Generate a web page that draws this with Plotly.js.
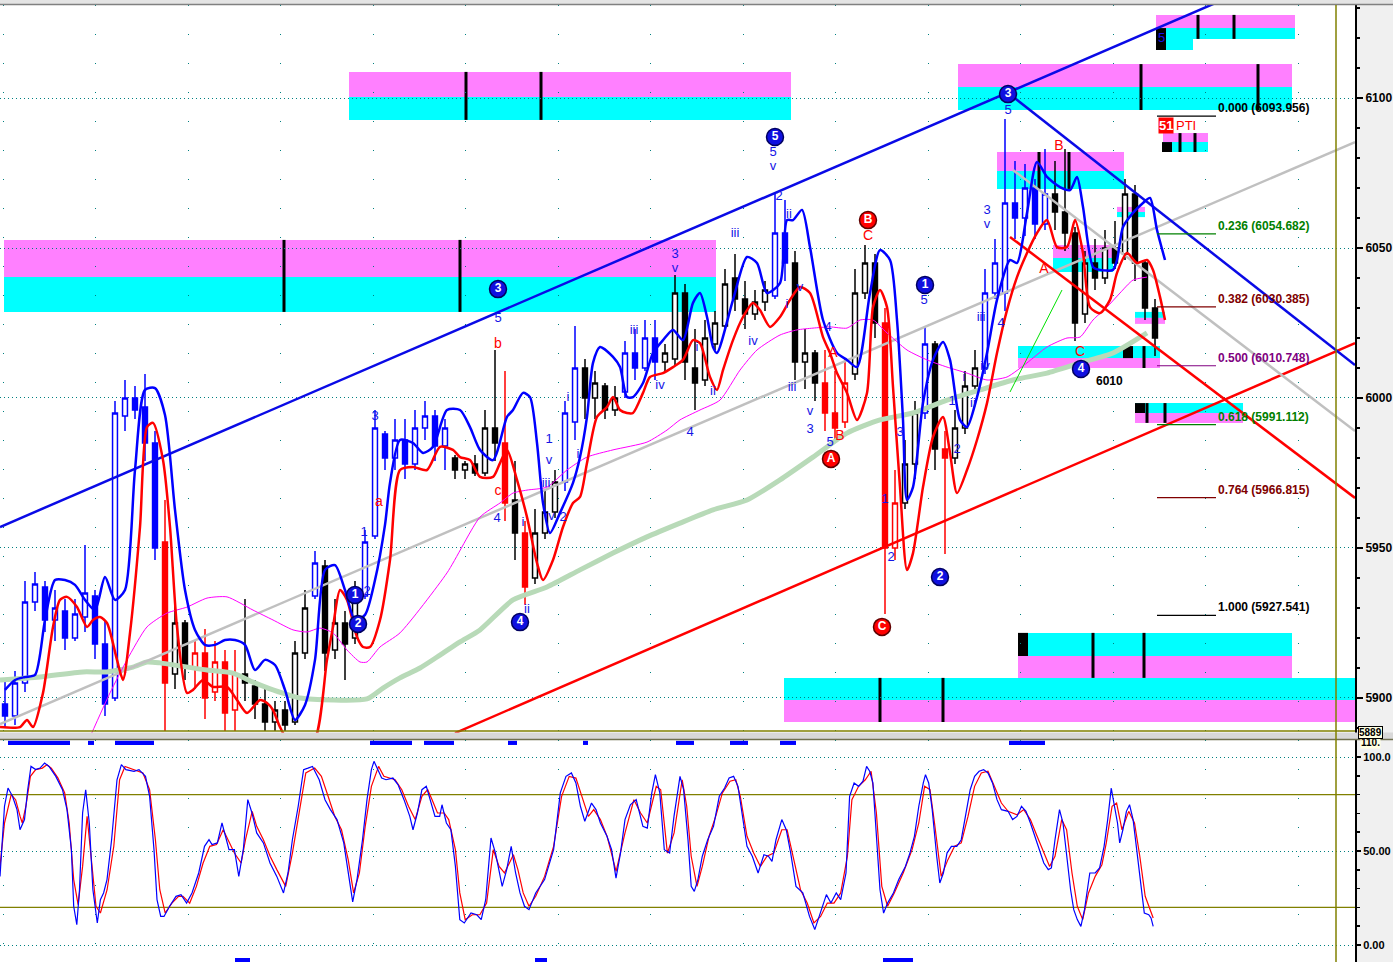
<!DOCTYPE html>
<html><head><meta charset="utf-8">
<script src="https://cdn.plot.ly/plotly-3.0.1.min.js"></script>
<style>html,body{margin:0;padding:0;background:#f0f0f0;}#chart{width:1393px;height:962px;}</style>
</head><body><div id="chart"></div>
<script>
// ---------------- DATA ----------------
// price bars (one every 10 time units, starting at time 5)
const barOpen = [5898,5894,5905,5932,5937,5926,5929,5920,5927,5934, 5918,5900,5994,6000,5997,5985,5952,5908,5925,5910, 5915,5902,5912,5896,5908,5904,5898,5892,5896,5892, 5915,5934,5944,5916,5925,5920,5934,5954,5988,5980, 5986,5978,5990,5994,5984,5980,5976,5978,5975,5990, 5985,5966,5955,5940,5955,5962,5972,5992,6010,6000, 6004,5996,6002,6015,6010,6020,6012,6013,6035,6010, 6006,6018,6024,6040,6033,6028,6032,6034,6055,6045, 6012,6015,6005,5995,5992,6008,6035,6045,6025,5950, 5965,5978,5995,6018,5983,5980,5990,6004,6010,6035, 6035,6065,6060,6070,6058,6068,6062,6055,6028,6045, 6040,6050,6048,6068,6045,6030];
const barHigh = [5906,5909,5939,5942,5939,5936,5933,5933,5951,5936, 5926,5999,6006,6004,6008,5989,5966,5933,5926,5919, 5923,5919,5916,5916,5933,5906,5903,5899,5899,5919, 5936,5949,5946,5933,5929,5939,5956,5996,5989,5993, 5993,5996,5999,5996,5993,5981,5979,5981,5996,6016, 6009,5979,5959,5963,5969,5976,5999,6024,6013,6009, 6005,6004,6019,6023,6026,6026,6018,6041,6038,6023, 6026,6029,6043,6048,6039,6036,6039,6068,6066,6049, 6023,6016,6016,6009,6013,6043,6051,6048,6030,5976, 5986,5999,6024,6019,5989,5996,6009,6016,6043,6053, 6093,6079,6078,6073,6083,6079,6083,6057,6049,6053, 6056,6059,6073,6071,6046,6033];
const barLow = [5890,5891,5902,5929,5922,5919,5916,5919,5922,5913, 5894,5899,5989,5993,5979,5946,5889,5903,5906,5903, 5893,5899,5889,5889,5899,5893,5889,5889,5889,5891, 5913,5933,5909,5913,5906,5918,5933,5953,5976,5976, 5973,5976,5986,5979,5976,5973,5973,5974,5974,5979, 5959,5946,5931,5938,5953,5960,5969,5986,5993,5993, 5993,5994,6000,6006,6009,6006,6009,6011,6006,5996, 6004,6016,6023,6029,6023,6026,6029,6033,6039,6006, 6003,5999,5989,5986,5990,6006,6033,6020,5928,5946, 5963,5973,5993,5976,5948,5978,5988,6003,6008,6033, 6029,6053,6054,6053,6056,6056,6049,6019,6025,6036, 6038,6043,6046,6039,6026,6014];
const barClose = [5894,5905,5932,5938,5926,5930,5920,5928,5935,5918, 5898,5995,6000,5996,5985,5950,5905,5925,5910,5915, 5900,5912,5895,5908,5905,5898,5892,5896,5891,5915, 5930,5945,5915,5925,5918,5935,5952,5990,5980,5986, 5978,5990,5994,5984,5990,5976,5978,5975,5990,5985, 5965,5955,5937,5955,5962,5972,5995,6010,6000,6005, 5996,6000,6015,6010,6020,6012,6015,6035,6012,6005, 6020,6025,6038,6033,6028,6032,6036,6055,6045,6012, 6015,6005,5995,5990,6005,6035,6045,6025,5950,5965, 5978,5995,6018,5983,5980,5990,6004,6010,6035,6045, 6065,6060,6070,6058,6068,6062,6055,6025,6045,6040, 6050,6045,6068,6045,6030,6020];
const barColor = "BBBBBBBBBBBBBBBBRKKRRRRRKKKKKKKBKKKKBBBBBBBBBKKKKKRKRKKKBBKKKKBBBBKKKKKKKKKKKBBKKKRRRKKKRRKKBKRKKKBBBBBBBKKKKKKKKKKK".split('');

// overlay curves (time, price)
const blueBandT = [5,15,25,35,45,55,65,75,85,95,105,115,125,135,145,155,165,175,185,195,205,215,225,235,245,255,265,275,285,295,305,315,325,335,345,355,365,375,385,390,400,413,423,433,447,460,470,480,493,507,513,523,530,537,543,550,560,573,580,587,593,600,613,620,627,633,643,653,663,673,683,693,700,707,713,717,733,747,757,767,780,787,793,802,810,823,837,847,857,870,880,890,897,903,907,913,923,933,943,950,960,967,977,987,997,1010,1017,1027,1037,1047,1060,1070,1077,1083,1093,1100,1113,1117,1123,1133,1143,1150,1157,1165];
const blueBandP = [5902.7,5906,5907,5907.7,5926,5939.3,5939.3,5937.7,5932.7,5929.3,5940.3,5932.7,5936,5976,6002.7,6003.3,5994.3,5962.7,5936,5922.7,5917.7,5917.7,5919.3,5919.3,5917.7,5909.3,5912.7,5911,5902.7,5892.7,5897.7,5912.7,5942.7,5944.3,5936,5926,5927.7,5939.3,5957.7,5971.7,5986,5985,5981.7,5983.7,5996,5996,5990.3,5982.7,5979.3,5993.7,5996,6001.7,6000.3,5985,5965,5955,5961.7,5971.7,5980.3,5993.7,6011.7,6017,6013.7,6010.3,6000.3,6000.3,6005,6015,6019.3,6022.7,6019.3,6031.7,6035,6027,6017,6015,6032.7,6047,6045,6035,6038.3,6059.3,6059.3,6062.7,6050.3,6026,6015,6012.7,6010.3,6035,6049.3,6046,6026,5992.7,5966,5970.3,5998.3,6012.7,6018.7,6012.7,5992.7,5990.3,6000.3,6015,6032.7,6046,6045,6061.7,6078.7,6073.7,6070.3,6069.3,6073.7,6063.7,6043.7,6042.7,6042.7,6046,6057,6061.7,6065,6066.7,6056,6046];
const redBandT = [0,20,27,33,43,53,60,67,77,87,93,100,107,117,123,130,140,147,153,163,170,177,187,193,203,213,227,237,247,260,267,273,280,290,313,327,333,340,347,357,363,370,380,390,400,413,427,440,453,460,470,480,493,500,507,517,527,537,543,553,563,573,580,587,597,607,613,620,627,633,643,650,663,673,683,693,700,710,717,723,733,743,753,760,770,780,790,800,810,823,830,837,847,857,867,873,880,887,893,900,907,913,923,933,943,950,957,967,977,987,997,1007,1017,1027,1037,1047,1057,1067,1075,1083,1090,1100,1110,1117,1127,1137,1147,1153,1160,1165];
const redBandP = [5890.3,5890.3,5892.7,5890.3,5901.7,5923.7,5932.7,5933.7,5930.3,5923.7,5926,5927,5925,5912.7,5906,5921.7,5957,5990.3,5991.7,5979.3,5957,5923.7,5901.7,5902.7,5906,5903.7,5903.7,5899.3,5895,5899.3,5898.3,5896,5890.3,5885,5885,5912.7,5923.7,5936,5932.7,5920.3,5917,5917,5926,5946,5976,5977,5976,5983.7,5982.7,5980.3,5979.3,5973.7,5973.7,5978.3,5982.7,5972.7,5960.3,5945,5939.3,5946,5957,5965,5967,5978.3,5993.7,5997,6000.3,5996,5995,5995,6001.7,6007,6008.3,6010.3,6012.7,6019.3,6018.3,6007,6002.7,6009.3,6019.3,6027,6031.7,6029.3,6023.7,6027,6032.7,6037,6035,6020.3,6015,6008.3,6001.7,5992.7,6001.7,6030.3,6036,6030.3,6003.7,5970.3,5942.7,5948.3,5970.3,5987,5993.7,5981.7,5968.3,5976,5986,5998.3,6015,6029.3,6040.3,6048.3,6055,6059.3,6050.3,6050.3,6059.3,6048.3,6030.3,6028.3,6032.7,6041.7,6048.3,6045,6046,6042.7,6033.7,6026];
const magentaT = [90,110,127,147,167,187,207,227,253,273,293,307,320,333,347,360,367,380,400,447,480,500,513,527,547,567,587,613,647,667,680,700,720,740,757,780,797,813,830,847,860,873,887,907,927,947,967,987,1007,1027,1047,1067,1080,1093,1107,1120,1133,1147];
const magentaP = [5887,5901.7,5912.7,5923.7,5928.3,5930.3,5933.3,5933.7,5929.3,5926,5922.7,5922,5923.3,5921.7,5916,5912,5912,5917,5921.7,5941.7,5960.3,5965,5968.3,5969.3,5970.3,5976,5980.3,5982.7,5985.3,5989.3,5992.7,5996,5999.3,6009.3,6016,6021,6022.7,6023.3,6023.7,6023.3,6026,6026,6021.7,6016,6012.7,6010.3,6008.3,6006,6007,6011.7,6017,6020,6020.3,6026,6030.3,6035,6039.3,6040.3];
const maT = [0,40,83,107,133,147,160,207,233,253,273,300,367,383,400,420,440,460,480,513,547,580,613,647,680,713,747,780,813,847,880,913,947,980,1013,1047,1080,1113,1147];
const maP = [5906,5907,5908.7,5908.7,5910.3,5912,5911.7,5909.3,5908.3,5905.3,5902.7,5900,5899.7,5903.3,5906.7,5910,5914.3,5918.7,5922.7,5932.7,5937,5942.7,5948.3,5953.7,5958.3,5962.7,5966,5972.7,5980.3,5988.3,5992.7,5995,5999.3,6002.7,6006,6008.3,6011.7,6015,6021.7];
const thinGreenT = [1010,1062];
const thinGreenP = [6002,6036];

// trend lines
const trendT0 = [0,455,0,1008,1013,1010];
const trendP0 = [5957,5888.3,5891.3,6101.7,6076,6053.7];
const trendT1 = [1355,1355,1355,1355,1355,1355];
const trendP1 = [6151.7,6018.3,6085.3,6011,5989,5966.7];
const trendKind = ['blue','red','grey','blue','grey','red'];

// fibonacci retracement
const fibRatio = ['0.000','0.236','0.382','0.500','0.618','0.764','1.000'];
const fibPrice = [6093.956,6054.682,6030.385,6010.748,5991.112,5966.815,5927.541];
const fibT0 = 1157, fibT1 = 1216;

// supply / demand zones
const zoneT0 = [349,4,958,1156,997,1163,1053,1117,1018,1135,1135,1018,784];
const zoneT1 = [791,716,1292,1295,1124,1208,1113,1145,1160,1165,1243,1292,1355];
const zoneTop = [6108.7,6052.7,6111.3,6127.7,6082,6088.3,6051,6063.7,6017.3,6028.7,5998.3,5921.7,5906.7];
const zoneMid = [6100.3,6040.3,6103.7,6123.3,6075.7,6085.3,6046.7,6062,6013.3,6026.7,5995,5914,5899.3];
const zoneBot = [6092.7,6028.7,6096,6119.7,6069.7,6082,6042,6060.3,6010,6024.7,5991.7,5906.7,5892];
const zoneKind = ['S','S','S','S','S','S','S','S','D','D','D','D','D'];
const zoneTickT = [466,541,284,460,1141,1258,1198,1234,1039,1069,1180,1195,1144,1147,1165,1093,1144,880,943];
const zoneTickZ = [0,0,1,1,2,2,3,3,4,4,5,5,8,10,10,11,11,12,12];
const blockT0 = [1156,1162,1123,1135,1018];
const blockT1 = [1166,1172,1133,1145,1028];
const blockTop = [6123.3,6085.3,6017.3,5998.3,5921.7];
const blockBot = [6116,6082,6013.3,5995,5914];
const stripT = [1166,1193], stripP = [6119.7,6116];

// wave labels
const blueLblT = [498,375,364,367,523,527,497,549,549,546,550,563,578,568,634,660,675,675,690,697,713,735,753,792,773,773,779,789,787,800,810,810,830,828,924,900,885,891,957,952,964,973,981,985,1001,987,987,1008];
const blueLblP = [6026.3,5993.7,5955,5935.3,5958.3,5929.3,5959.7,5986,5979,5971.5,5960.3,5960,5981,6000,6022.3,6004,6047.7,6043,5988.3,6016.7,6002,6054.7,6018.7,6003.3,6081.7,6077,6067,6061,6031,6036.7,5995.5,5989.3,5985,6023.3,6032.3,5988.3,5966,5946.7,5982.7,5998.7,6006.7,5998,6026.7,6010.3,6024.7,6062.3,6057.7,6095.7];
const blueLblText = ['5','3','1','2','i','ii','4','1','v','iii','iv','2','i','i','iii','iv','3','v','4','i','ii','iii','iv','iii','5','v','2','ii','i','v','v','3','5','4','5','3','1','2','2','1','i','ii','iii','iv','4','3','v','5'];
const redLblT = [498,379,498,123,868,840,833,1059,1044,1080];
const redLblP = [6017.7,5965,5968.7,5907.3,6054,5987.3,6015,6084,6042.7,6015.3];
const redLblText = ['b','a','c','v','C','B','A','B','A','C'];
const blueCircT = [498,775,1008,925,940,520,1081,355,358];
const blueCircP = [6036.3,6087,6101.3,6037.7,5940.3,5925.3,6009.7,5934.3,5924.7];
const blueCircText = ['3','5','3','1','2','4','4','1','2'];
const redCircT = [868,831,882];
const redCircP = [6059.3,5979.7,5923.7];
const redCircText = ['B','A','C'];

// stochastic oscillator
const stochKT = [0,4.5,8,12.5,17,20,24.5,27.7,31,35.7,40,44.6,49,55.8,62.5,67,71.4,73.7,76.8,79.5,82.6,85.7,89.3,92.9,97.3,100.4,103.6,107,111.6,117,121.4,125.9,134,139,145.5,149.6,154,157,160.7,164,169.6,176,181,186.6,192,198.7,204.5,209,212,217.4,222,225.4,229,234.4,238.8,243.3,247.8,252,256.7,263.4,270,276.8,283.5,288,292.4,298.2,303.6,308,312.5,319.2,325,330.4,337,343.75,348,352.7,357,362.5,367,371.4,374,377,381.7,386,392.9,398,404,409.8,413,417.4,421.9,426.3,430.8,435,439.7,442,446.4,450.9,455.4,459.8,464.3,471,476.8,481.25,485.7,491,495.5,502.2,506.7,511.2,515.6,520,524.5,529,535.7,544.6,553.6,560.3,566,571.4,575.9,580.4,584.8,591.5,596,600.4,607,611.6,616,620.5,625,630.4,636.2,642.9,647.3,651.8,655.4,659.8,664.3,669.6,674,
680,683.6,688,691.2,694.3,697.9,702.3,707.7,713.5,719.3,724.6,729.1,733.6,738,742.5,747,752.3,758.1,763.9,768.4,772,776,781.8,786.25,790.7,796,802.8,809.5,814.8,820.6,826.4,830.9,836.25,840.7,846,849.6,854.1,858.6,863,866.6,869.7,872.9,876.4,880,883.6,887.6,893.4,898.75,905.4,909.9,914.4,918.8,923.3,925.5,928.7,932.2,936.7,939.8,943.4,947,951.4,956.8,961.25,965.7,970.2,974.6,979.1,983.6,988,992.5,997,1001.4,1008.1,1012.6,1017,1021.5,1026,1030.4,1034.9,1039.4,1043.8,1048.3,1051.4,1055,1059.5,1063,1066.2,1070.6,1073.75,1077.3,1080.9,1084.5,1089.8,1095.2,1099.6,1104.1,1107.7,1111.25,1113.9,1117.5,1119.7,1122.9,1126.4,1129.55,1133.1,1136.25,1139.8,1144.3,1148.75,1151,1153.2];
const stochK = [36.5,73.8,83.5,79.1,72,61.3,66.7,82.6,95,93.3,94.1,96.8,95,89.7,82.6,72,50.7,20.6,10.8,29.4,70.2,82.6,64.9,29.4,11.7,24.1,27.7,34.8,56,87.9,95.9,93.3,92.4,93.3,89.7,79.1,50.7,24.1,15.2,15.2,20.6,25.9,26.8,22.3,27.7,38.3,52.5,56,53.4,54.3,64.9,57.8,50.7,50.7,36.5,50.7,77.3,70.2,59.6,54.3,43.6,36.5,27.7,38.3,56,73.8,93.3,94.1,95,87.9,77.3,72,66.7,54.3,38.3,22.9,34.8,56,77.3,93.3,97.7,94.1,88.8,87.9,88.8,85.3,77.3,68.4,61.3,70.2,82.6,84.4,75.5,68.4,68.4,74.6,64.9,61.3,41.8,13.5,11.7,17,16.1,13.5,24.1,56.9,48.9,31.2,40.1,52.5,38.3,27.7,20.6,18.8,27.7,34.8,50.7,80.9,89.7,91.5,86.2,73.8,65.8,75.5,72,64.9,57.8,50.7,35.6,48.9,66.7,74.6,77.3,63.1,62.2,80.9,90.6,80.9,50.7,48.9,68.4,
89.7,82.6,56,31.2,28.5,34.8,47.2,56,63.1,79.1,83.5,88.8,89.7,84.4,68.4,52.5,47.2,38.3,48,47.2,44.5,56,66.7,61.3,48.9,31.2,27.7,15.2,8.2,17,26.8,22.3,27.7,24.1,38.3,79.1,86.2,84.4,87.1,95,92.4,86.2,56,29.4,17,22.3,27.7,34.8,41.8,48.9,57.8,73.8,86.2,90.6,86.2,72,47.2,33,38.3,48.9,52.5,52.5,56,68.4,82.6,89.7,92.4,93.3,91.5,86.2,77.3,72,71.1,66.7,68.4,73.8,71.1,64.9,57.8,50.7,43.6,40.1,41,56,72,64.9,48.9,29.4,18.8,13.5,9.9,18.8,38.3,38.3,41,52.5,66.7,83.5,75.5,64.9,54.3,61.3,71.1,74.6,66.7,52.5,38.3,17,16.1,14.4,9.9];
const stochDT = [0,4.5,11.2,15.6,20.1,22.3,25.9,30.4,35.7,42.4,46.9,51.3,58,64.7,69.2,73.7,78.1,82.6,87.1,91.5,96,100.4,107.1,113.8,119.6,125,133.9,142.9,149.6,155.4,159.8,165.2,171.9,178.6,183,189.7,196.4,203.1,209.8,216.5,223.2,227.7,234.4,241.1,245.5,252.2,256.7,263.4,270.1,276.8,285.7,292.4,298.2,305.8,314.7,321.4,328.1,334.8,341.5,348.2,353.6,359.4,365.2,371.4,378.6,383.9,395.1,401.8,408.5,415.2,421.9,427.7,432.1,437.5,444.2,448.7,455.4,459.8,465.2,472.3,479.9,486.6,493.3,499.1,504.5,513.4,517.9,523.2,529,535.7,544.6,553.6,561.6,569.2,575.9,582.6,588.4,593.75,600.4,607.1,616.1,625,633.9,640.6,647.3,656.25,660.7,667.4,674.1,
682.2,686.7,691.2,697,702.3,709,715.7,722.4,730,735.8,740.3,747,753.7,760.4,767,773.75,781.8,787.1,793.8,800.5,807.2,813.9,820.6,827.3,834,840.7,847.4,851.9,858.6,865.3,871.1,876.4,881.8,887.6,894.3,903.2,912.1,918.8,924.6,930,934.5,941.2,947.9,954.6,961.25,968,974.6,981.3,988,994.7,1001.4,1008.1,1017,1023.75,1030.4,1037.1,1043.8,1049.6,1055,1061.7,1066.6,1072,1077.3,1082.7,1088.5,1095.2,1101.9,1106.3,1112.1,1116.6,1122,1128.7,1134.5,1139.8,1145.2,1148.75,1153.2];
const stochD = [41.8,64.9,80,77.3,68.4,64.9,73.8,89.7,93.3,94.1,95.9,94.1,88.8,80.9,64.9,34.8,21.5,41.8,68.4,43.6,20.6,17,29.4,52.5,87.9,95,93.3,91.5,82.6,56,29.4,17,22.3,25.9,25.9,22.3,31.2,43.6,52.5,53.4,61.3,56,48.9,43.6,56,71.1,63.1,56,47.2,40.1,31.2,48.9,66.7,91.5,94.1,89.7,79.1,68.4,61.3,45.4,27.7,38.3,63.1,84.4,95,89.7,87.9,82.6,73.8,66.7,79.1,82.6,77.3,70.2,70.2,66.7,50.7,27.7,13.5,16.1,16.1,22.3,50.7,41.8,38.3,48,40.1,27.7,20.6,25.9,36.5,52.5,79.1,89.7,88.8,77.3,68.4,72,66.7,57.8,39.2,59.6,77.3,70.2,64.9,84.4,82.6,48.9,59.6,
87.9,73.8,47.2,31.2,41.8,57.8,68.4,80.9,87.1,87.9,79.1,57.8,48.9,41.8,47.2,48.9,61.3,61.3,45.4,29.4,22.3,11.7,15.2,22.3,22.3,27.7,47.2,77.3,84.4,87.9,92.4,70.2,31.2,20.6,27.7,38.3,50.7,64.9,84.4,82.6,64.9,36.5,45.4,52.5,54.3,68.4,84.4,91.5,92.4,84.4,75.5,71.1,69.3,72,66.7,57.8,48.9,41.8,47.2,66.7,61.3,38.3,20.6,13.5,27.7,36.5,42.7,54.3,73.8,75.5,61.3,71.1,64.9,47.2,25.9,20.6,14.4];
const sigTopT0 = [8,88,115,370,424,508,583,676,730,780,1009];
const sigTopT1 = [70,94,154,412,454,517,588,694,748,796,1045];
const sigBotT0 = [235,535,883];
const sigBotT1 = [250,547,913];

// ---------------- LAYOUT HELPERS ----------------
const W = 1393, H = 962, PLOT_W = 1355;
const BAR_STEP = 10, BAR_START = 5;
const barT = barOpen.map((_, i) => BAR_START + BAR_STEP * i);
const py = p => 1 - p / H; // pixel row -> paper
const FONT = 'Liberation Sans, Arial, sans-serif';
const COL = {B: '#0000ff', R: '#ff0000', K: '#000000'};
const PINK = '#ff80ff', CYAN = '#00ffff';

const traces = [];
traces.push({type:'scatter', mode:'lines', x: maT, y: maP, xaxis:'x', yaxis:'y',
  line:{color:'#b8dab8', width:5, shape:'spline', smoothing:0.6}, hoverinfo:'skip', showlegend:false});
trendKind.forEach((k, i) => {
  const c = k === 'blue' ? '#0a0ae6' : (k === 'red' ? '#ff0000' : '#c0c0c0');
  traces.push({type:'scatter', mode:'lines', x:[trendT0[i], trendT1[i]], y:[trendP0[i], trendP1[i]],
    xaxis:'x', yaxis:'y', line:{color:c, width:2.5}, hoverinfo:'skip', showlegend:false});
});
['B','R','K'].forEach(c => {
  const idx = barColor.map((v, i) => v === c ? i : -1).filter(i => i >= 0);
  traces.push({type:'candlestick', xaxis:'x', yaxis:'y',
    x: idx.map(i => barT[i]), open: idx.map(i => barOpen[i]), high: idx.map(i => barHigh[i]),
    low: idx.map(i => barLow[i]), close: idx.map(i => barClose[i]),
    increasing:{line:{color:COL[c], width:1.5}, fillcolor:'#ffffff'},
    decreasing:{line:{color:COL[c], width:1.5}, fillcolor:COL[c]},
    whiskerwidth:0, hoverinfo:'skip', showlegend:false});
});
traces.push({type:'scatter', mode:'lines', x: magentaT, y: magentaP, xaxis:'x', yaxis:'y',
  line:{color:'#ff00ff', width:1, shape:'spline', smoothing:0.6}, hoverinfo:'skip', showlegend:false});
traces.push({type:'scatter', mode:'lines', x: thinGreenT, y: thinGreenP, xaxis:'x', yaxis:'y',
  line:{color:'#00e000', width:1}, hoverinfo:'skip', showlegend:false});
traces.push({type:'scatter', mode:'lines', x: redBandT, y: redBandP, xaxis:'x', yaxis:'y',
  line:{color:'#ff0000', width:2.5, shape:'spline', smoothing:0.7}, hoverinfo:'skip', showlegend:false});
traces.push({type:'scatter', mode:'lines', x: blueBandT, y: blueBandP, xaxis:'x', yaxis:'y',
  line:{color:'#0000ff', width:2.5, shape:'spline', smoothing:0.7}, hoverinfo:'skip', showlegend:false});
const fibColor = ['#000000','#008000','#800000','#800080','#008000','#800000','#000000'];
fibPrice.forEach((p, i) => {
  traces.push({type:'scatter', mode:'lines', x:[fibT0, fibT1], y:[p, p], xaxis:'x', yaxis:'y',
    line:{color:fibColor[i], width:1.2}, hoverinfo:'skip', showlegend:false});
});
traces.push({type:'scatter', mode:'text', x: blueLblT, y: blueLblP, text: blueLblText, xaxis:'x', yaxis:'y',
  textfont:{family:FONT, size:13, color:'#1414e6'}, cliponaxis:false, hoverinfo:'skip', showlegend:false});
traces.push({type:'scatter', mode:'text', x: redLblT, y: redLblP, text: redLblText, xaxis:'x', yaxis:'y',
  textfont:{family:FONT, size:14, color:'#ff0000'}, cliponaxis:false, hoverinfo:'skip', showlegend:false});
traces.push({type:'scatter', mode:'markers+text', x: blueCircT, y: blueCircP, text: blueCircText, xaxis:'x', yaxis:'y',
  marker:{size:17, color:'#1010e0', line:{color:'#000060', width:1.5}}, textposition:'middle center',
  textfont:{family:FONT, size:12, color:'#ffffff', weight:'bold'}, hoverinfo:'skip', showlegend:false});
traces.push({type:'scatter', mode:'markers+text', x: redCircT, y: redCircP, text: redCircText, xaxis:'x', yaxis:'y',
  marker:{size:17, color:'#ff0000', line:{color:'#600000', width:1.5}}, textposition:'middle center',
  textfont:{family:FONT, size:12, color:'#ffffff', weight:'bold'}, hoverinfo:'skip', showlegend:false});
traces.push({type:'scatter', mode:'lines', x: stochDT, y: stochD, xaxis:'x2', yaxis:'y2',
  line:{color:'#ff0000', width:1.2}, hoverinfo:'skip', showlegend:false});
traces.push({type:'scatter', mode:'lines', x: stochKT, y: stochK, xaxis:'x2', yaxis:'y2',
  line:{color:'#0000ff', width:1.2}, hoverinfo:'skip', showlegend:false});

// ---------------- SHAPES ----------------
const shapes = [];
zoneT0.forEach((t0, i) => {
  const topC = zoneKind[i] === 'S' ? PINK : CYAN, botC = zoneKind[i] === 'S' ? CYAN : PINK;
  shapes.push({type:'rect', xref:'x', yref:'y', x0:t0, x1:zoneT1[i], y0:zoneMid[i], y1:zoneTop[i],
    fillcolor:topC, line:{width:0}, layer:'below'});
  shapes.push({type:'rect', xref:'x', yref:'y', x0:t0, x1:zoneT1[i], y0:zoneBot[i], y1:zoneMid[i],
    fillcolor:botC, line:{width:0}, layer:'below'});
});
shapes.push({type:'rect', xref:'x', yref:'y', x0:stripT[0], x1:stripT[1], y0:stripP[1], y1:stripP[0],
  fillcolor:CYAN, line:{width:0}, layer:'below'});
blockT0.forEach((t0, i) => shapes.push({type:'rect', xref:'x', yref:'y', x0:t0, x1:blockT1[i],
  y0:blockBot[i], y1:blockTop[i], fillcolor:'#000', line:{width:0}, layer:'below'}));
zoneTickT.forEach((t, i) => {
  const z = zoneTickZ[i];
  shapes.push({type:'line', xref:'x', yref:'y', x0:t, x1:t, y0:zoneBot[z], y1:zoneTop[z],
    line:{color:'#000', width:3}, layer:'below'});
});
[20, 80].forEach(v => shapes.push({type:'line', xref:'x2', yref:'y2', x0:0, x1:PLOT_W, y0:v, y1:v,
  line:{color:'#808000', width:1.2}, layer:'below'}));
sigTopT0.forEach((t, i) => shapes.push({type:'rect', xref:'x2', yref:'y2', x0:t, x1:sigTopT1[i],
  y0:106.4, y1:108.6, fillcolor:'#0000ff', line:{width:0}}));
sigBotT0.forEach((t, i) => shapes.push({type:'rect', xref:'x2', yref:'y2', x0:t, x1:sigBotT1[i],
  y0:-9.1, y1:-6.9, fillcolor:'#0000ff', line:{width:0}}));
shapes.push({type:'rect', xref:'paper', yref:'paper', x0:0, x1:W / PLOT_W, y0:py(5), y1:1,
  fillcolor:'#e4e4e4', line:{width:0}});
shapes.push({type:'line', xref:'paper', yref:'paper', x0:0, x1:W / PLOT_W, y0:py(4.5), y1:py(4.5),
  line:{color:'#808080', width:1.5}});
shapes.push({type:'rect', xref:'paper', yref:'paper', x0:0, x1:W / PLOT_W, y0:py(739), y1:py(732.5),
  fillcolor:'#d8d8d8', line:{width:0}});
shapes.push({type:'line', xref:'paper', yref:'paper', x0:0, x1:1, y0:py(731), y1:py(731),
  line:{color:'#808000', width:1.5}});
shapes.push({type:'line', xref:'paper', yref:'paper', x0:0, x1:W / PLOT_W, y0:py(739.5), y1:py(739.5),
  line:{color:'#707050', width:1.5}});
shapes.push({type:'line', xref:'x', yref:'paper', x0:1336, x1:1336, y0:0, y1:py(5),
  line:{color:'#808000', width:1.5}, layer:'above'});

// ---------------- ANNOTATIONS ----------------
const annotations = [];
fibPrice.forEach((p, i) => annotations.push({xref:'x', yref:'y', x:fibT1 + 1, y:p, xanchor:'left', yanchor:'bottom',
  text: fibRatio[i] + ' (' + p.toFixed(3) + ')', showarrow:false, borderpad:0,
  font:{family:FONT, size:12, color:fibColor[i], weight:'bold'}}));
annotations.push({xref:'x', yref:'y', x:1109, y:6005.7, text:'6010', showarrow:false,
  font:{family:FONT, size:12, color:'#000', weight:'bold'}});
annotations.push({xref:'x', yref:'y', x:1158, y:6090.7, xanchor:'left', text:'51', showarrow:false,
  bgcolor:'#ff0000', borderpad:0, font:{family:FONT, size:13, color:'#fff', weight:'bold'}});
annotations.push({xref:'x', yref:'y', x:1174, y:6090.7, xanchor:'left', text:'PTI', showarrow:false,
  font:{family:FONT, size:13, color:'#ff0000'}});
annotations.push({xref:'x', yref:'y', x:1161, y:6120.3, text:'5', showarrow:false,
  font:{family:FONT, size:13, color:'#1414e6'}});
annotations.push({xref:'paper', yref:'paper', x:1.004, y:py(742), xanchor:'left', yanchor:'middle', text:'110.',
  showarrow:false, bgcolor:'#ffffe1', borderpad:0, font:{family:FONT, size:10, color:'#000', weight:'bold'}});
annotations.push({xref:'paper', yref:'paper', x:1.002, y:py(732), xanchor:'left', yanchor:'middle', text:'5889',
  showarrow:false, bgcolor:'#ffffe1', bordercolor:'#000', borderwidth:1, borderpad:0,
  font:{family:FONT, size:10, color:'#000', weight:'bold'}});

const xCommon = {range:[0, PLOT_W], showticklabels:false, ticks:'', showgrid:true, gridcolor:'#008080',
  griddash:'1px,28px', gridwidth:1, tick0:3, dtick:92.5, zeroline:false, showline:false,
  rangeslider:{visible:false}, fixedrange:true};
const yCommon = {side:'right', ticks:'outside', ticklen:6, tickwidth:1.5, tickcolor:'#000',
  showline:true, linecolor:'#000', linewidth:2, showgrid:true, gridcolor:'#008080', griddash:'1px,3px',
  gridwidth:1, zeroline:false, fixedrange:true,
  tickfont:{family:FONT, size:12, color:'#000', weight:'bold'},
  minor:{dtick:10, ticks:'outside', ticklen:3, tickcolor:'#000', showgrid:false}};

const layout = {
  width: W, height: H, margin:{l:0, r:W - PLOT_W, t:0, b:0, pad:0},
  paper_bgcolor:'#f0f0f0', plot_bgcolor:'#ffffff', showlegend:false,
  xaxis: Object.assign({}, xCommon, {domain:[0,1], anchor:'y'}),
  xaxis2: Object.assign({}, xCommon, {domain:[0,1], anchor:'y2', matches:'x'}),
  yaxis: Object.assign({}, yCommon, {domain:[py(733), py(5)], range:[5888.33, 6131], anchor:'x',
    tickvals:[5900,5950,6000,6050,6100], ticktext:['5900','5950','6000','6050','6100']}),
  yaxis2: Object.assign({}, yCommon, {domain:[0, py(740)], range:[-9.04, 109.04], anchor:'x2',
    tickvals:[0,50,100], ticktext:['0.00','50.00','100.0'], ticklen:4,
    tickfont:{family:FONT, size:11, color:'#000', weight:'bold'}}),
  shapes: shapes, annotations: annotations
};
Plotly.newPlot('chart', traces, layout, {displayModeBar:false, staticPlot:true});
</script>
</body></html>
